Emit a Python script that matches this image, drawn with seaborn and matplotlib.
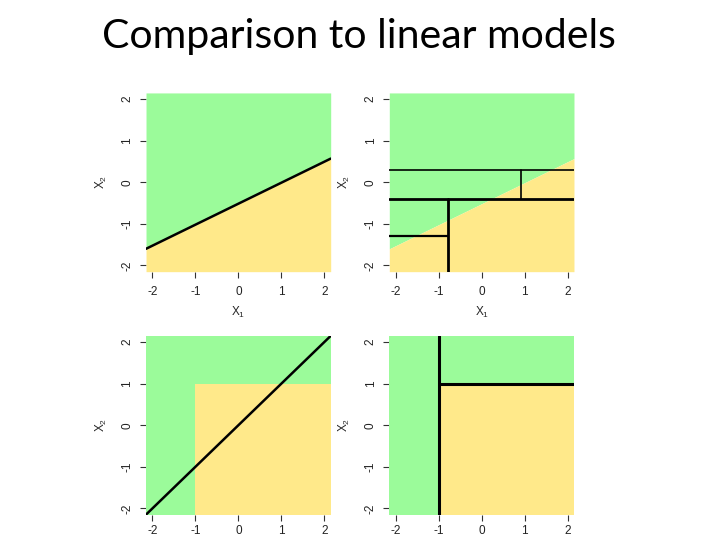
import numpy as np
import matplotlib.pyplot as plt
import seaborn as sns

# chart text
title = "Comparison to linear models"
tick_vals = [-2, -1, 0, 1, 2]
tick_labels = ["-2", "-1", "0", "1", "2"]
lim = (-2.15, 2.15)

# top row: linear class boundary (end points)
lin_x = [-2.15, 2.15]
lin_y = [-1.60, 0.57]

# top-right: tree splits drawn over the linear truth
tree_x0 = [-2.15, -2.15, -2.15, -0.79, 0.92]
tree_x1 = [2.15, 2.15, -0.79, -0.79, 0.92]
tree_y0 = [0.30, -0.40, -1.29, -2.15, -0.40]
tree_y1 = [0.30, -0.40, -1.29, -0.40, 0.30]
tree_lw = [1.2, 2.0, 1.6, 2.0, 1.2]

# bottom row: box-shaped truth (X1 > -1 and X2 < 1 is yellow)
box_x = [-1.0, 2.15]
box_top = 1.0
diag_x = [-2.15, 2.15]
diag_y = [-2.15, 2.15]
split_x0 = [-1.0, -1.0]
split_x1 = [-1.0, 2.15]
split_y0 = [-2.15, 1.0]
split_y1 = [2.15, 1.0]

green = "#9bfb9a"
yellow = "#ffe98a"

sns.set_theme(style="white")
plt.rcParams['font.family'] = ['Liberation Sans', 'DejaVu Sans']

fig = plt.figure(figsize=(7.2, 5.4), dpi=100)
fig.text(0.4986, 0.933, title, ha="center", va="center", fontsize=29.5,
         color="black", family=["Lato", "DejaVu Sans"])

w, h = 0.2565, 0.331
ax_tl = fig.add_axes([0.2028, 0.4969, w, h])
ax_tr = fig.add_axes([0.5407, 0.4969, w, h])
ax_bl = fig.add_axes([0.2028, 0.047, w, h])
ax_br = fig.add_axes([0.5407, 0.047, w, h])


def style(ax, xlab=True, xpad=6):
    ax.set_xlim(lim)
    ax.set_ylim(lim)
    for s in ax.spines.values():
        s.set_visible(False)
    ax.set_xticks(tick_vals)
    ax.set_xticklabels(tick_labels, fontsize=8.5)
    ax.set_yticks(tick_vals)
    ax.set_yticklabels(tick_labels, fontsize=8.5, rotation=90, va="center")
    ax.tick_params(axis="both", direction="out", length=4, width=0.8,
                   color="#333333", labelcolor="#222222",
                   bottom=True, left=True)
    ax.tick_params(axis="x", pad=xpad)
    ax.tick_params(axis="y", pad=5)
    ax.set_ylabel("$\\mathregular{X_2}$", fontsize=8.5, va="center")
    ax.yaxis.set_label_coords(-0.244, 0.5)
    if xlab:
        ax.set_xlabel("$\\mathregular{X_1}$", fontsize=8.5, va="center")
        ax.xaxis.set_label_coords(0.5, -0.226)


# top row backgrounds
for ax in (ax_tl, ax_tr):
    ax.fill_between(lin_x, lin_y, lim[1], color=green, lw=0)
    ax.fill_between(lin_x, lim[0], lin_y, color=yellow, lw=0)
    style(ax)

sns.lineplot(x=lin_x, y=lin_y, ax=ax_tl, color="black", lw=1.8)

for x0, x1, y0, y1, lw in zip(tree_x0, tree_x1, tree_y0, tree_y1, tree_lw):
    sns.lineplot(x=[x0, x1], y=[y0, y1], ax=ax_tr, color="black", lw=lw,
                 sort=False, estimator=None)

# bottom row backgrounds
for ax in (ax_bl, ax_br):
    ax.fill_between(lim, lim[0], lim[1], color=green, lw=0)
    ax.fill_between(box_x, lim[0], box_top, color=yellow, lw=0)
    style(ax, xlab=False, xpad=3.5)

sns.lineplot(x=diag_x, y=diag_y, ax=ax_bl, color="black", lw=1.8)

for x0, x1, y0, y1 in zip(split_x0, split_x1, split_y0, split_y1):
    sns.lineplot(x=[x0, x1], y=[y0, y1], ax=ax_br, color="black", lw=2.2,
                 sort=False, estimator=None)

fig.savefig("out.png", dpi=100)
